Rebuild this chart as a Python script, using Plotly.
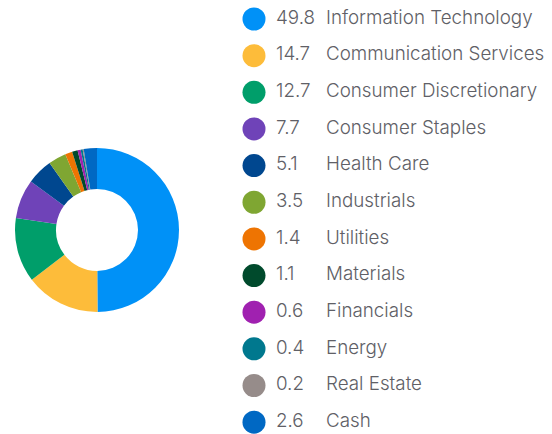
import plotly.graph_objects as go

sectors = ["Information Technology", "Communication Services", "Consumer Discretionary",
           "Consumer Staples", "Health Care", "Industrials", "Utilities", "Materials",
           "Financials", "Energy", "Real Estate", "Cash"]
weights = [49.8, 14.7, 12.7, 7.7, 5.1, 3.5, 1.4, 1.1, 0.6, 0.4, 0.2, 2.6]
colors = ["#0091F7", "#FDBC3A", "#009E6A", "#6F43B8", "#00478F", "#7FA632",
          "#EE7402", "#004A2C", "#A021B0", "#00788E", "#968C8A", "#0068C3"]

W, H = 552, 434
cx, cy, r = 97, 230, 82
text_color = "#606066"
font_family = "Inter, Roboto, sans-serif"
fsize = 18.8

fig = go.Figure()
fig.add_trace(go.Pie(
    labels=sectors, values=weights, marker=dict(colors=colors, line=dict(width=0)),
    sort=False, direction="clockwise", rotation=0, hole=0.5,
    textinfo="none", hoverinfo="label+value", showlegend=False,
    domain=dict(x=[(cx - r) / W, (cx + r) / W], y=[(H - cy - r) / H, (H - cy + r) / H]),
))

idx = list(range(len(sectors)))
fig.add_trace(go.Scatter(
    x=[254] * len(sectors), y=idx, mode="markers",
    marker=dict(size=23, color=colors, line=dict(width=0)),
    hoverinfo="skip", showlegend=False, cliponaxis=False,
))
fig.add_trace(go.Scatter(
    x=[276] * len(sectors), y=idx, mode="text", text=[f"{v:.1f}" for v in weights],
    textposition="middle right",
    textfont=dict(size=fsize, color=text_color, family=font_family, weight=300),
    hoverinfo="skip", showlegend=False, cliponaxis=False,
))
fig.add_trace(go.Scatter(
    x=[326] * len(sectors), y=idx, mode="text", text=sectors,
    textposition="middle right",
    textfont=dict(size=fsize, color=text_color, family=font_family, weight=300),
    hoverinfo="skip", showlegend=False, cliponaxis=False,
))

step = 36.65
first = 19
fig.update_layout(
    width=W, height=H, margin=dict(l=0, r=0, t=0, b=0),
    paper_bgcolor="white", plot_bgcolor="rgba(0,0,0,0)",
    xaxis=dict(range=[0, W], visible=False, domain=[0, 1], fixedrange=True),
    yaxis=dict(range=[(H - first) / step, -first / step], visible=False, domain=[0, 1], fixedrange=True),
)
fig.write_html("out.html", config={"displayModeBar": False},
               post_script="document.body.style.margin='0';")
